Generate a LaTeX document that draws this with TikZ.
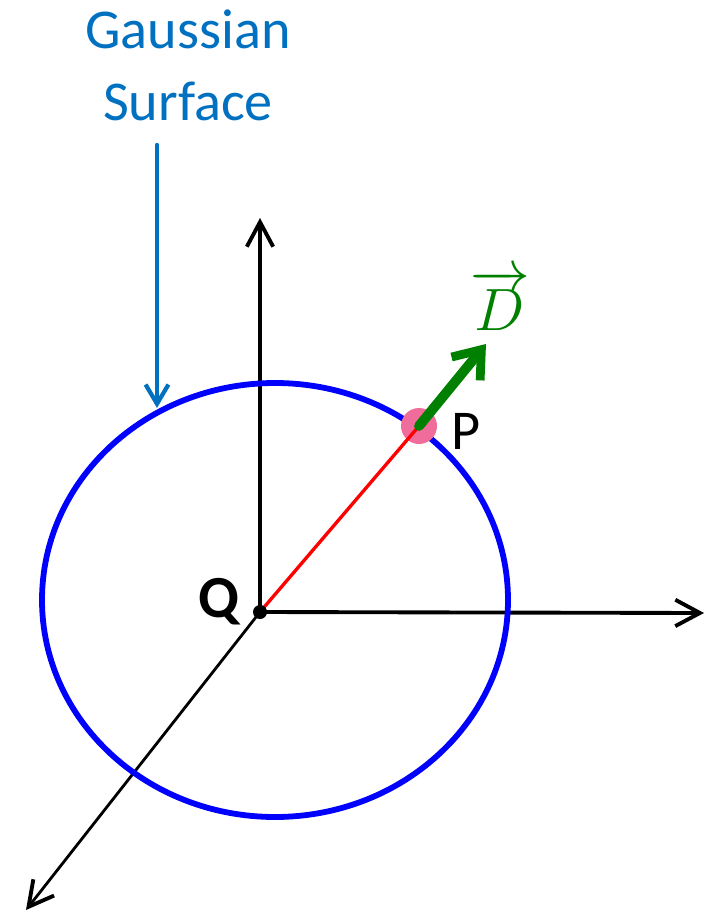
\RequirePackage{fix-cm}
\documentclass[tikz,border=0pt]{standalone}
\usepackage{fontspec}
\setmainfont{Carlito}
\usetikzlibrary{arrows.meta,positioning}
\definecolor{gaussblue}{HTML}{0070C0}
\definecolor{dvecgreen}{HTML}{008000}
\definecolor{ppink}{HTML}{F06C9B}
\begin{document}
\begin{tikzpicture}[x=0.02cm,y=-0.02cm,line cap=round,line join=round]
	\useasboundingbox (0,0) rectangle (706,915);
	\tikzset{axis/.style={line width=2.4pt,-{Straight Barb[length=14pt,width=15pt,line width=2.2pt]}},
		lbl/.style={font=\fontsize{32}{37}\selectfont,inner sep=0pt}}
	\coordinate (Q) at (260,612);
	\coordinate (P) at (419,426);
	\coordinate (yend) at (260,218);\coordinate (xend) at (704,613);\coordinate (zend) at (26,910);
	% axes
	\draw[axis] (Q) -- (yend);
	\draw[axis,line width=2.2pt] (Q) -- (xend);
	\draw[axis,line width=1.6pt] (Q) -- (zend);
	% gaussian surface
	\draw[blue,line width=3.3pt] (275,600) ellipse (233 and 217);
	\fill[ppink] (P) circle (18);
	\draw[red,line width=1.9pt] (Q) -- (P);
	\fill (Q) circle (7);
	\draw[dvecgreen,line width=5.6pt,-{Straight Barb[length=14pt,width=21pt,line width=5pt]}] (P) -- (486,344) coordinate (Dtip);
	% labels
	\node[lbl,dvecgreen,font=\fontsize{34}{40}\selectfont] (D) at (500,300) {$\overrightarrow{D}$};
	\node[lbl] (Plbl) at (466,431) {P};
	\node[lbl,font=\fontsize{34}{40}\selectfont] (Qlbl) at (220,602) {\textbf{Q}};
	\node[lbl,gaussblue,align=center] (gs) at (188,65) {Gaussian\\[4pt]Surface};
	\draw[gaussblue,line width=2.5pt,-{Straight Barb[length=11pt,width=13pt,line width=2.4pt]}] (157,145) -- (157,408);
\end{tikzpicture}
\end{document}
